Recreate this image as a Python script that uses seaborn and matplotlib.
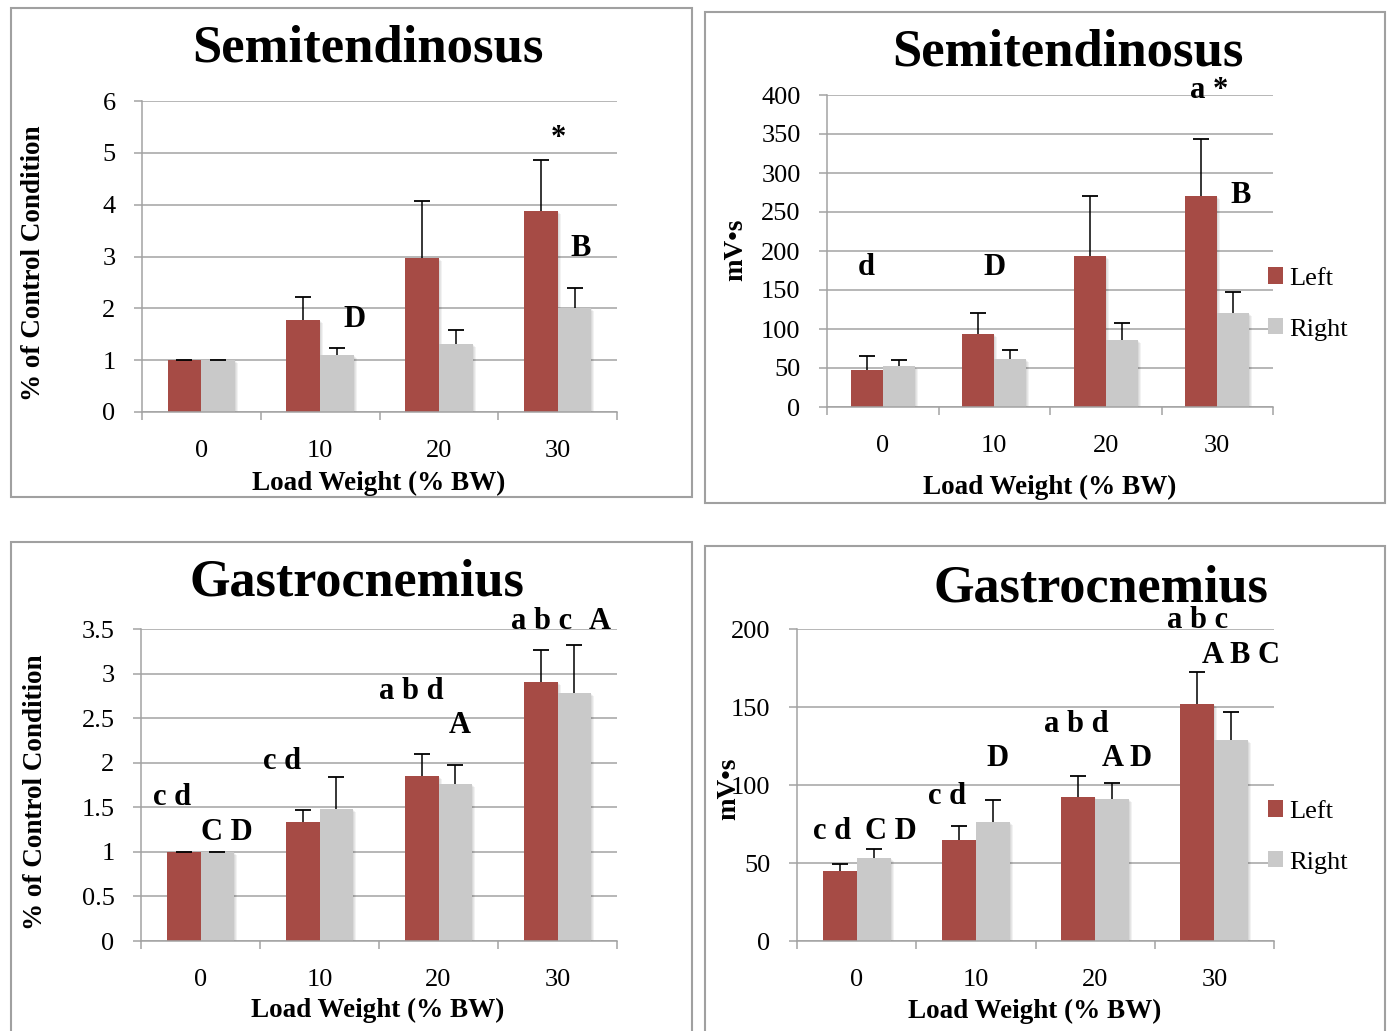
import numpy as np
import pandas as pd
import matplotlib
matplotlib.use("Agg")
import matplotlib.pyplot as plt
import matplotlib.transforms as mtransforms
import seaborn as sns
from matplotlib.patches import Rectangle
from matplotlib.ticker import FuncFormatter

# ---------------- data ----------------
loads = ["0", "10", "20", "30"]
sides = ["Left", "Right"]

# Semitendinosus, % of control condition
st_pct_left = [1.00, 1.77, 2.98, 3.88]
st_pct_left_err = [0.0, 0.45, 1.10, 0.99]
st_pct_right = [1.00, 1.10, 1.32, 2.01]
st_pct_right_err = [0.0, 0.14, 0.27, 0.39]

# Semitendinosus, mV*s
st_mv_left = [48, 94, 193, 270]
st_mv_left_err = [17, 27, 78, 74]
st_mv_right = [53, 62, 86, 121]
st_mv_right_err = [7, 11, 22, 27]

# Gastrocnemius, % of control condition
ga_pct_left = [1.00, 1.33, 1.85, 2.90]
ga_pct_left_err = [0.0, 0.14, 0.25, 0.37]
ga_pct_right = [1.00, 1.48, 1.76, 2.78]
ga_pct_right_err = [0.0, 0.36, 0.21, 0.54]

# Gastrocnemius, mV*s
ga_mv_left = [45, 65, 92, 152]
ga_mv_left_err = [4.6, 8.5, 13.6, 20.4]
ga_mv_right = [53, 76, 91, 129]
ga_mv_right_err = [5.8, 14.2, 10.0, 17.8]

# significance letters
st_pct_notes = ["D", "*", "B"]
st_mv_notes = ["d", "D", "a *", "B"]
ga_pct_notes = ["c d", "C D", "c d", "a b d", "A", "a b c", "A"]
ga_mv_notes = ["c d", "C D", "c d", "D", "a b d", "A D", "a b c", "A B C"]

titles = ["Semitendinosus", "Semitendinosus", "Gastrocnemius", "Gastrocnemius"]
ylabels = ["% of Control Condition", "mV\u2022s", "% of Control Condition", "mV\u2022s"]
xlabel = "Load Weight (% BW)"

# ---------------- style ----------------
sns.set_style("white")
plt.rcParams["font.family"] = ["Liberation Serif", "DejaVu Serif"]
plt.rcParams["text.color"] = "black"

RED = "#A64B45"
GREY = "#C9C9C9"
GRID = "#A3A3A3"
BORDER = "#A0A0A0"

W, H = 1388, 1031
fig = plt.figure(figsize=(W / 100, H / 100), dpi=100)
fig.patch.set_facecolor("white")

# layout (pixels)
panels = [
    dict(rect=(142, 101, 617, 412), left=st_pct_left, lerr=st_pct_left_err,
         right=st_pct_right, rerr=st_pct_right_err, ymax=6, step=1,
         notes=st_pct_notes, note_pos=[(1.29, 1.64), (3.01, 5.13), (3.19, 3.0)],
         title_pos=(368, 62), ylab_pos=(34, 263), xlab_pos=(379, 490),
         legend=None, border=(11, 8, 692, 497)),
    dict(rect=(827, 95, 1273, 407), left=st_mv_left, lerr=st_mv_left_err,
         right=st_mv_right, rerr=st_mv_right_err, ymax=400, step=50,
         notes=st_mv_notes, note_pos=[(-0.15, 169), (1.0, 169), (2.93, 395.7), (3.21, 261.8)],
         title_pos=(1068, 65), ylab_pos=(736, 250), xlab_pos=(1050, 494),
         legend=(1268, 304), border=(705, 12, 1385, 503)),
    dict(rect=(141, 629, 617, 941), left=ga_pct_left, lerr=ga_pct_left_err,
         right=ga_pct_right, rerr=ga_pct_right_err, ymax=3.5, step=0.5,
         notes=ga_pct_notes,
         note_pos=[(-0.24, 1.525), (0.22, 1.13), (0.686, 1.926), (1.77, 2.72),
                   (2.18, 2.337), (2.87, 3.50), (3.355, 3.50)],
         title_pos=(357, 595), ylab_pos=(36, 792), xlab_pos=(378, 1017),
         legend=None, border=(11, 542, 692, 1045)),
    dict(rect=(797, 629, 1274, 941), left=ga_mv_left, lerr=ga_mv_left_err,
         right=ga_mv_right, rerr=ga_mv_right_err, ymax=200, step=50,
         notes=ga_mv_notes,
         note_pos=[(-0.21, 65.7), (0.29, 65.7), (0.76, 87.7), (1.18, 112.1),
                   (1.84, 134.1), (2.27, 112.1), (2.86, 200.4), (3.22, 178.4)],
         title_pos=(1101, 601), ylab_pos=(729, 789), xlab_pos=(1035, 1018),
         legend=(1268, 837), border=(705, 546, 1385, 1045)),
]

for i, p in enumerate(panels):
    x0, y0, x1, y1 = p["rect"]
    ax = fig.add_axes([x0 / W, 1 - y1 / H, (x1 - x0) / W, (y1 - y0) / H])
    df = pd.DataFrame({
        "load": loads * 2,
        "side": [sides[0]] * 4 + [sides[1]] * 4,
        "value": list(p["left"]) + list(p["right"]),
    })
    sns.barplot(data=df, x="load", y="value", hue="side", order=loads,
                hue_order=sides, palette=[RED, GREY], width=0.57,
                errorbar=None, saturation=1, legend=False, ax=ax,
                edgecolor="none", linewidth=0, zorder=2)

    # soft drop shadow to the right of each bar
    for cont in ax.containers:
        for b in cont:
            for k in (1, 2, 3):
                off = mtransforms.offset_copy(ax.transData, fig=fig,
                                              x=k, y=-k, units="dots")
                sh = Rectangle((b.get_x(), 0), b.get_width(), b.get_height(),
                               transform=off, facecolor="black", alpha=0.05,
                               edgecolor="none", zorder=1.9)
                ax.add_patch(sh)

    for cont, errs in zip(ax.containers, [p["lerr"], p["rerr"]]):
        xs = np.array([b.get_x() + b.get_width() / 2 for b in cont])
        ys = np.array([b.get_height() for b in cont])
        errs = np.asarray(errs, dtype=float)
        ax.errorbar(xs, ys, yerr=[np.zeros(len(errs)), errs], fmt="none",
                    ecolor="black", elinewidth=1.1, capsize=0, zorder=3)
        ax.plot(xs, ys + errs, linestyle="none", marker="_", markersize=11.5,
                markeredgewidth=1.3, color="black", zorder=3)

    ax.set_xlim(-0.5, 3.5)
    ax.set_ylim(0, p["ymax"])
    ax.set_yticks(np.arange(0, p["ymax"] + p["step"] / 2, p["step"]))
    ax.yaxis.set_major_formatter(FuncFormatter(lambda v, pos: f"{v:g}"))
    ax.set_xticks(range(4))
    ax.set_xticklabels(loads)
    ax.set_xticks(np.arange(-0.5, 4, 1), minor=True)
    ax.tick_params(axis="x", which="major", bottom=True, length=0, pad=20,
                   labelsize=19, labelcolor="black")
    ax.tick_params(axis="x", which="minor", bottom=True, length=6, width=1.1,
                   color=GRID, direction="out")
    ax.tick_params(axis="y", which="major", left=True, length=6, width=1.1,
                   color=GRID, direction="out", pad=13, labelsize=19,
                   labelcolor="black")
    ax.grid(axis="y", color=GRID, lw=1.1)
    ax.grid(axis="x", visible=False)
    ax.set_axisbelow(True)
    ax.set_xlabel("")
    ax.set_ylabel("")
    for s in ["top", "right"]:
        ax.spines[s].set_visible(False)
    for s in ["left", "bottom"]:
        ax.spines[s].set_color(GRID)
        ax.spines[s].set_linewidth(1.1)
    ax.patch.set_alpha(0)

    for txt, (nx, ny) in zip(p["notes"], p["note_pos"]):
        ax.text(nx, ny, txt, ha="center", va="baseline", fontsize=22,
                fontweight="bold", color="black", zorder=4)

    if p["legend"] is not None:
        lx, ly = p["legend"]
        handles = [ax.containers[0][0], ax.containers[1][0]]
        ax.legend(handles, sides, loc="center left",
                  bbox_to_anchor=(lx / W, 1 - ly / H), bbox_transform=fig.transFigure,
                  frameon=False, fontsize=19, handlelength=0.57, handleheight=0.57,
                  handletextpad=0.25, labelspacing=1.08, borderpad=0,
                  borderaxespad=0)

    tx, ty = p["title_pos"]
    fig.text(tx / W, 1 - ty / H, titles[i], ha="center", va="baseline",
             fontsize=38 if i < 2 else 37.5, fontweight="bold")
    lx, ly = p["ylab_pos"]
    fig.text(lx / W, 1 - ly / H, ylabels[i], ha="center", va="center",
             rotation=90, fontsize=19.5, fontweight="bold")
    xx, xy = p["xlab_pos"]
    fig.text(xx / W, 1 - xy / H, xlabel, ha="center", va="baseline",
             fontsize=19.5, fontweight="bold")

    bx0, by0, bx1, by1 = p["border"]
    fig.add_artist(Rectangle((bx0 / W, 1 - by1 / H), (bx1 - bx0) / W, (by1 - by0) / H,
                             transform=fig.transFigure, fill=False,
                             edgecolor=BORDER, lw=1.5))

fig.savefig("out.png", dpi=100)
